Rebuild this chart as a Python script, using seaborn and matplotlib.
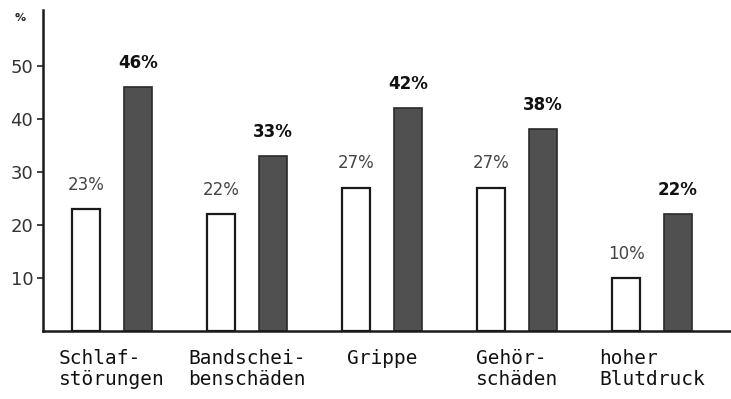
import matplotlib
matplotlib.use("Agg")
import matplotlib.pyplot as plt
import seaborn as sns
import pandas as pd

# data
categories = ["Schlaf-\nstörungen", "Bandschei-\nbenschäden", "Grippe",
              "Gehör-\nschäden", "hoher\nBlutdruck"]
group_a = [23, 22, 27, 27, 10]   # white bars
group_b = [46, 33, 42, 38, 22]   # dark bars
series = ["A", "B"]

df = pd.DataFrame({
    "Kategorie": categories * 2,
    "Wert": group_a + group_b,
    "Gruppe": [series[0]] * len(categories) + [series[1]] * len(categories),
})

sns.set_theme(style="white")
plt.rcParams["font.family"] = ["DejaVu Sans"]

fig = plt.figure(figsize=(7.31, 3.99), dpi=100)
ax = fig.add_axes([0.0588, 0.1704, 0.9412, 0.8045])

sns.barplot(data=df, x="Kategorie", y="Wert", hue="Gruppe",
            palette={"A": "white", "B": "#505050"},
            width=0.77, gap=0.46, legend=False, ax=ax)

# bar outlines
for bar in ax.containers[0]:
    bar.set_edgecolor("#1a1a1a")
    bar.set_linewidth(1.6)
for bar in ax.containers[1]:
    bar.set_edgecolor("#2a2a2a")
    bar.set_linewidth(1.2)

# value labels
ax.bar_label(ax.containers[0], labels=[f"{v}%" for v in group_a],
             padding=11, fontsize=12, color="#444444")
ax.bar_label(ax.containers[1], labels=[f"{v}%" for v in group_b],
             padding=11, fontsize=12, color="#111111", fontweight="bold")

ax.set_ylim(0, 60.5)
ax.set_xlim(-0.51, 4.585)
ax.set_yticks([10, 20, 30, 40, 50])
ax.tick_params(axis="y", left=True, direction="out", length=4, width=1.2,
               pad=3, labelsize=13, labelcolor="#333333", color="#222222")
ax.tick_params(axis="x", bottom=False, length=0, pad=13)
ax.set_xticks(range(len(categories)))
ax.set_xticklabels(categories, fontfamily="DejaVu Sans Mono", fontsize=14,
                   color="#111111", ma="left", linespacing=1.1)
ax.set_xlabel("")
ax.set_ylabel("")

sns.despine(ax=ax)
for side in ["left", "bottom"]:
    ax.spines[side].set_linewidth(1.8)
    ax.spines[side].set_color("#1a1a1a")

fig.text(0.027, 0.955, "%", fontsize=8, color="#222222",
         ha="center", va="center", fontweight="bold")

fig.savefig("out.png", dpi=100)
